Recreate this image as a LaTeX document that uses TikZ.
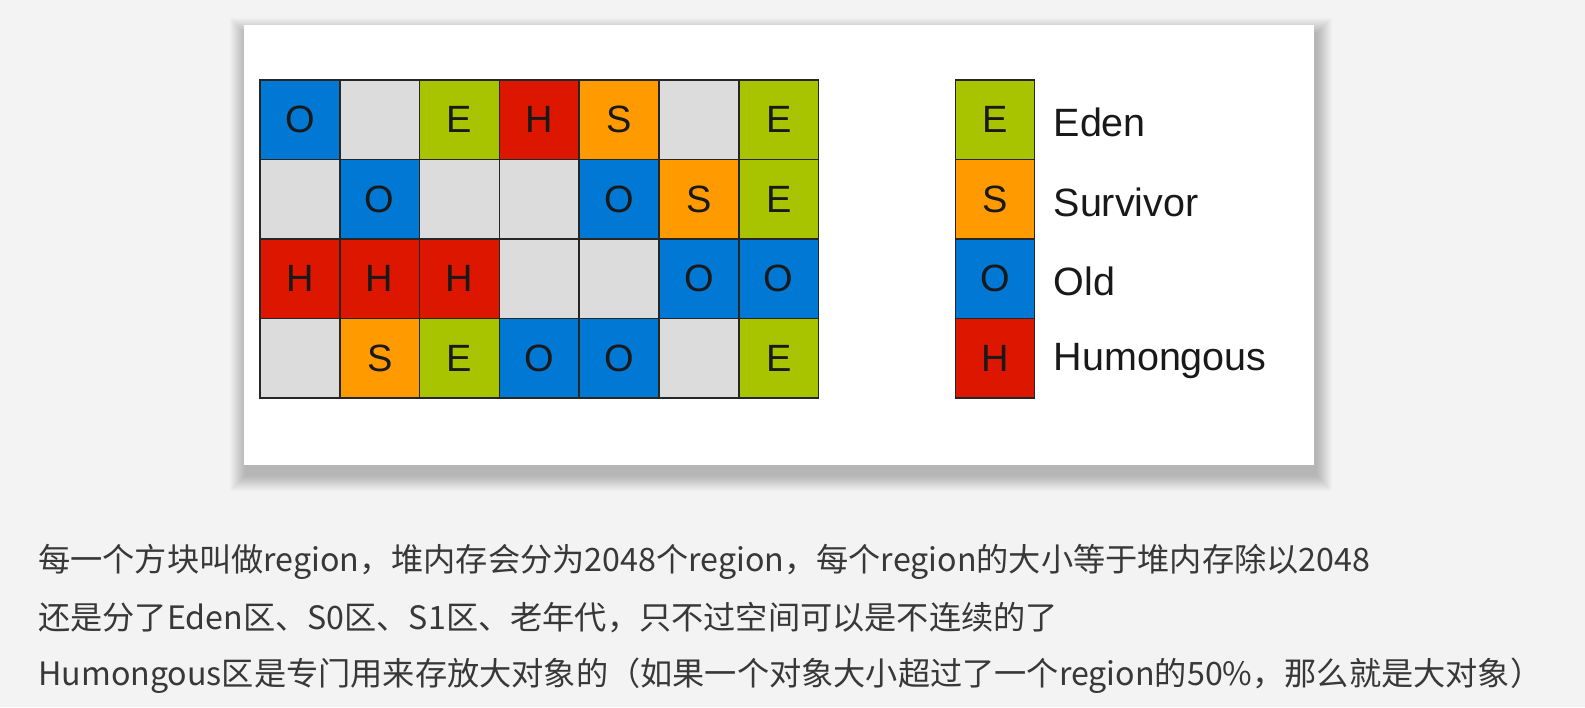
\documentclass[tikz,border=0pt]{standalone}
\usepackage{fontspec}
\setmainfont{Liberation Sans}
\newfontfamily\cjk{Noto Sans CJK SC}
\usepackage{tikz}
\usetikzlibrary{positioning}
\definecolor{pagebg}{HTML}{F3F3F3}
\definecolor{edenfill}{HTML}{A8C300}
\definecolor{survfill}{HTML}{FF9A00}
\definecolor{oldfill}{HTML}{0078D4}
\definecolor{humfill}{HTML}{DD1600}
\definecolor{freefill}{HTML}{DCDCDC}
\definecolor{cellline}{HTML}{262626}
\definecolor{notetext}{HTML}{383838}
\tikzset{
  reg/.style  = {rectangle, draw=cellline, line width=1.4pt, minimum size=79.5pt,
                 inner sep=0pt, font=\fontsize{38}{42}\selectfont, text=black!90},
  regE/.style = {reg, fill=edenfill, node contents=E},
  regS/.style = {reg, fill=survfill, node contents=S},
  regO/.style = {reg, fill=oldfill, node contents=O},
  regH/.style = {reg, fill=humfill, node contents=H},
  regN/.style = {reg, fill=freefill, node contents={}},
  lgd/.style  = {anchor=west, inner sep=0pt, font=\fontsize{39.5}{44}\selectfont, text=black!90},
  note/.style = {anchor=west, inner sep=0pt, font=\cjk\fontsize{32.2}{36}\selectfont, text=notetext},
}

\begin{document}
\begin{tikzpicture}[x=1pt, y=-1pt]
  \useasboundingbox (0,0) rectangle (1585,707);
  \fill[pagebg] (0,0) rectangle (1585,707);
  \foreach \i in {1,...,16}{\fill[black, opacity=0.017] (244-\i+2,25-\i+9) rectangle (1314+\i+2,465+\i+10);}
  \fill[white] (244,25) rectangle (1314,465);
  \foreach \row [count=\r] in {{O,N,E,H,S,N,E},{N,O,N,N,O,S,E},{H,H,H,N,N,O,O},{N,S,E,O,O,N,E}}{
    \foreach \t [count=\c] in \row {\node (c\r\c) at (260+\c*79.8-39.9, 80+\r*79.5-39.75) [reg\t];}
  }
  \node (lgE) at (995,119.75) [regE];
  \node (lgS) at (995,199.25) [regS];
  \node (lgO) at (995,278.75) [regO];
  \node (lgH) at (995,358.25) [regH];
  \node[lgd] (tE) at ([xshift=18pt, yshift=-3pt]lgE.east) {Eden};
  \node[lgd] (tS) at ([xshift=18pt, yshift=-3pt]lgS.east) {Survivor};
  \node[lgd] (tO) at ([xshift=18pt, yshift=-3pt]lgO.east) {Old};
  \node[lgd] (tH) at ([xshift=18pt, yshift=-3pt]lgH.east) {Humongous};
  \node[note] (l1) at (38,562) {每一个方块叫做region，堆内存会分为2048个region，每个region的大小等于堆内存除以2048};
  \node[note] (l2) at (38,618) {还是分了Eden区、S0区、S1区、老年代，只不过空间可以是不连续的了};
  \node[note] (l3) at (38,676) {Humongous区是专门用来存放大对象的（如果一个对象大小超过了一个region的50\%，那么就是大对象）};
\end{tikzpicture}
\end{document}
